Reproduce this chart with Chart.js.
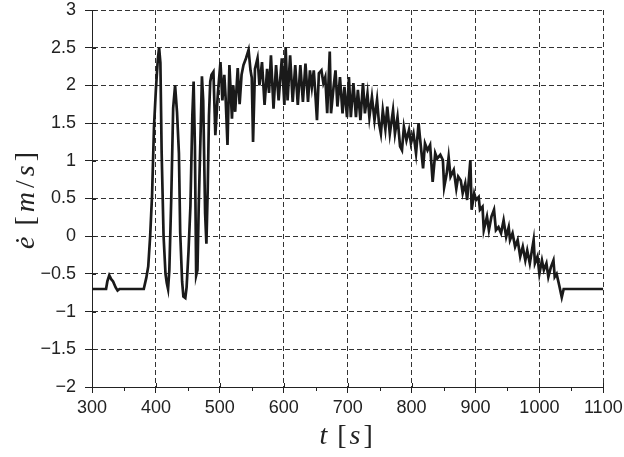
<!DOCTYPE html>
<html lang="en">
<head>
    <meta charset="UTF-8">
    <title>e-dot vs t</title>
    <script src="https://cdn.jsdelivr.net/npm/chart.js"></script>
    <style>
        html, body { margin: 0; padding: 0; background: #fff; }
        #wrap { width: 624px; height: 457px; }
    </style>
</head>
<body>
    <div id="wrap"><canvas id="chart" width="624" height="457"></canvas></div>

    <script>
        // time [s] and e-dot [m/s]
        const timeSec = [
            300, 322, 324, 327, 330, 333, 337, 340, 343, 381,
            385, 388, 391, 394, 397, 400, 403, 405, 407, 409,
            412, 415, 417, 419, 421, 424, 427, 430, 433, 436,
            438, 441, 443, 446, 448, 451, 454, 457, 459, 461,
            463, 465, 467, 470, 472, 474, 477, 479, 481, 483,
            485, 487, 490, 493, 497, 501, 504, 507, 509, 512,
            515, 519, 521, 524, 528, 531, 534, 537, 541, 545,
            548, 550, 552, 555, 559, 562, 566, 570, 574, 577,
            580, 584, 588, 592, 597, 601, 603, 606, 610, 614,
            618, 622, 626, 630, 634, 638, 641, 644, 647, 649,
            652, 655, 659, 662, 665, 668, 672, 674, 678, 681,
            684, 688, 692, 695, 699, 702, 705, 709, 713, 716,
            720, 724, 727, 731, 734, 738, 742, 746, 749, 752,
            755, 759, 762, 766, 771, 774, 778, 782, 785, 788,
            792, 796, 799, 803, 807, 811, 813, 818, 821, 825,
            829, 833, 837, 840, 845, 849, 851, 855, 858, 861,
            866, 870, 873, 877, 880, 884, 887, 892, 894, 898,
            901, 905, 907, 911, 913, 918, 921, 925, 929, 932,
            936, 940, 944, 948, 952, 954, 958, 962, 966, 970,
            974, 978, 981, 985, 991, 993, 997, 1000, 1004, 1007,
            1011, 1014, 1018, 1022, 1024, 1027, 1031, 1035, 1038, 1100
        ];
        const eDot = [
            -0.70, -0.70, -0.60, -0.52, -0.57, -0.60, -0.68, -0.72, -0.70, -0.70,
            -0.55, -0.40, 0.00, 0.55, 1.45, 1.95, 2.35, 2.50, 2.30, 1.10,
            0.00, -0.50, -0.62, -0.70, -0.45, 0.50, 1.70, 2.00, 1.65, 1.10,
            0.05, -0.60, -0.80, -0.82, -0.68, -0.20, 0.40, 1.60, 2.05, 1.20,
            -0.52, -0.45, 0.40, 1.40, 2.12, 1.80, 0.30, -0.10, 0.60, 1.60,
            2.05, 2.14, 2.18, 1.34, 1.90, 2.31, 1.80, 2.14, 1.85, 1.21,
            2.27, 1.56, 2.00, 1.65, 2.23, 1.75, 2.14, 2.27, 2.36, 2.47,
            2.20, 2.10, 1.25, 2.22, 2.36, 2.00, 2.31, 1.74, 2.22, 1.90,
            2.40, 1.69, 2.27, 1.80, 2.36, 1.74, 2.51, 1.80, 2.40, 1.78,
            2.27, 1.74, 2.27, 1.78, 2.29, 1.78, 2.20, 1.98, 2.20, 1.95,
            1.54, 2.16, 2.20, 2.03, 2.11, 1.63, 2.45, 1.63, 1.98, 2.20,
            1.72, 2.11, 1.63, 1.98, 1.58, 2.11, 1.58, 2.03, 1.58, 1.94,
            1.54, 2.03, 1.63, 1.89, 1.58, 1.85, 1.54, 1.81, 1.50, 1.36,
            1.67, 1.42, 1.72, 1.36, 1.67, 1.36, 1.58, 1.19, 1.14, 1.45,
            1.27, 1.41, 1.23, 1.36, 1.10, 1.50, 1.32, 0.90, 1.23, 1.14,
            1.21, 0.72, 1.10, 1.03, 1.08, 1.01, 0.65, 0.83, 1.05, 0.79,
            0.88, 0.63, 0.79, 0.74, 0.57, 0.70, 0.48, 1.01, 0.35, 0.57,
            0.48, 0.52, 0.35, 0.39, 0.08, 0.26, 0.08, 0.26, 0.35, 0.08,
            0.12, 0.04, 0.21, -0.01, 0.12, -0.05, 0.04, -0.14, -0.05, -0.27,
            -0.14, -0.32, -0.19, -0.36, -0.05, -0.36, -0.27, -0.50, -0.32, -0.45,
            -0.36, -0.54, -0.41, -0.32, -0.54, -0.50, -0.65, -0.81, -0.70, -0.70
        ];

        const xTicks = [300, 400, 500, 600, 700, 800, 900, 1000, 1100];
        const xMinorTicks = [350, 450, 550, 650, 750, 850, 950, 1050];
        const yTicks = [-2, -1.5, -1, -0.5, 0, 0.5, 1, 1.5, 2, 2.5, 3];

        // axis titles: [text, italic?] pieces, LaTeX-like mix
        const xTitle = [['t', true], [' [', false], ['s', true], [']', false]];
        const yTitle = [['\u0117', true], [' [', false], ['m', true], ['/', false], ['s', true], [']', false]];

        const ink = '#222';
        const tickFont = { family: '"Liberation Sans", Arial, sans-serif', size: 18 };
        const serif = '"Liberation Serif", "Times New Roman", serif';

        function drawRun(ctx, pieces, cx, cy, rot, size, gap) {
            const fontOf = it => (it ? 'italic ' : '') + size + 'px ' + serif;
            let total = 0;
            const widths = pieces.map(([txt, it]) => {
                ctx.font = fontOf(it);
                const w = ctx.measureText(txt).width + gap;
                total += w;
                return w;
            });
            ctx.save();
            ctx.translate(cx, cy);
            ctx.rotate(rot);
            ctx.fillStyle = ink;
            ctx.textBaseline = 'middle';
            ctx.textAlign = 'left';
            let pos = -total / 2;
            pieces.forEach(([txt, it], i) => {
                ctx.font = fontOf(it);
                ctx.fillText(txt, pos, 0);
                pos += widths[i];
            });
            ctx.restore();
        }

        // small inward ticks, minor ticks on the time axis, axis titles
        const extras = {
            id: 'extras',
            afterDraw(chart) {
                const { ctx, chartArea: a, scales: { x, y } } = chart;
                ctx.save();
                ctx.strokeStyle = ink;
                ctx.lineWidth = 1;
                ctx.beginPath();
                xTicks.forEach(v => {
                    const px = Math.round(x.getPixelForValue(v)) + 0.5;
                    ctx.moveTo(px, a.bottom);
                    ctx.lineTo(px, a.bottom - 4);
                });
                xMinorTicks.forEach(v => {
                    const px = Math.round(x.getPixelForValue(v)) + 0.5;
                    ctx.moveTo(px, a.bottom);
                    ctx.lineTo(px, a.bottom + 4);
                });
                yTicks.forEach(v => {
                    const py = Math.round(y.getPixelForValue(v)) + 0.5;
                    ctx.moveTo(a.left, py);
                    ctx.lineTo(a.left + 4, py);
                });
                ctx.stroke();
                ctx.restore();

                drawRun(ctx, xTitle, (a.left + a.right) / 2, 437, 0, 28, 3);
                drawRun(ctx, yTitle, 27, (a.top + a.bottom) / 2, -Math.PI / 2, 28, 4);
            }
        };

        const fmt = v => String(v).replace('-', '\u2212');

        new Chart(document.getElementById('chart'), {
            type: 'line',
            data: {
                datasets: [{
                    data: timeSec.map((t, i) => ({ x: t, y: eDot[i] })),
                    borderColor: '#1a1a1a',
                    borderWidth: 2.7,
                    pointRadius: 0,
                    tension: 0,
                    fill: false
                }]
            },
            options: {
                responsive: false,
                animation: false,
                devicePixelRatio: 1,
                layout: { padding: 0 },
                plugins: {
                    legend: { display: false },
                    tooltip: { enabled: false }
                },
                scales: {
                    x: {
                        type: 'linear',
                        min: 300,
                        max: 1100,
                        afterBuildTicks: s => { s.ticks = xTicks.map(v => ({ value: v })); },
                        afterFit: s => {
                            s.height = 70;
                            s.paddingLeft = 0;
                            s.paddingRight = 20.7;
                        },
                        ticks: { font: tickFont, color: ink, padding: 4, maxRotation: 0, callback: fmt },
                        grid: { color: '#333', lineWidth: 1, tickLength: 6, tickColor: ink },
                        border: { display: true, color: ink, width: 1, dash: [5, 3] }
                    },
                    y: {
                        min: -2,
                        max: 3,
                        afterBuildTicks: s => { s.ticks = yTicks.map(v => ({ value: v })); },
                        afterFit: s => {
                            s.width = 92;
                            s.paddingTop = 10;
                            s.paddingBottom = 0;
                        },
                        ticks: { font: tickFont, color: ink, padding: 9, callback: fmt },
                        grid: { color: '#333', lineWidth: 1, tickLength: 7, tickColor: ink },
                        border: { display: true, color: ink, width: 1, dash: [5, 3] }
                    }
                }
            },
            plugins: [extras]
        });
    </script>
</body>
</html>
